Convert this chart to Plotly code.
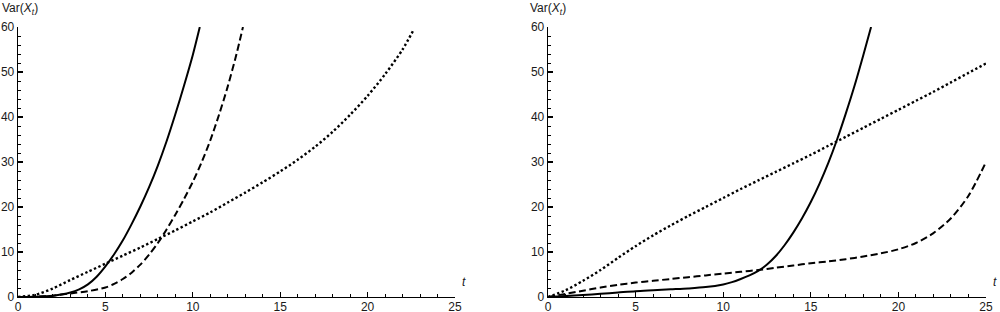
import plotly.graph_objects as go
from plotly.subplots import make_subplots

# ---- Left panel data ----
left_solid_t = [0, 1, 2, 3, 3.5, 4, 4.5, 5, 5.5, 6, 6.5, 7, 7.5, 8, 8.5, 9, 9.5, 10, 10.4]
left_solid_v = [0, 0.05, 0.3, 1.0, 1.7, 2.8, 4.5, 6.8, 9.5, 12.6, 16.2, 20.1, 24.4, 29.2, 34.6, 40.6, 47.0, 53.8, 60]

left_dash_t = [0, 1, 2, 3, 4, 5, 5.5, 6, 6.5, 7, 7.5, 8, 8.5, 9, 9.5, 10, 10.5, 11, 11.5, 12, 12.5, 12.87]
left_dash_v = [0, 0.05, 0.3, 0.8, 1.3, 2.1, 2.9, 4.0, 5.4, 7.2, 9.4, 12.0, 15.0, 18.3, 21.8, 25.6, 29.9, 34.8, 40.5, 46.8, 54.0, 60]

left_dot_t = [0, 1, 2, 3, 4, 5, 6, 7, 8, 9, 10, 11, 12, 13, 14, 15, 16, 17, 18, 19, 20, 21, 22, 22.65]
left_dot_v = [0, 0.5, 1.9, 3.8, 5.6, 7.4, 9.2, 11.0, 12.9, 14.8, 16.8, 18.8, 21.0, 23.2, 25.5, 27.9, 30.5, 33.4, 36.7, 40.5, 44.7, 49.5, 55.0, 59.5]

# ---- Right panel data ----
right_solid_t = [0, 1, 2, 3, 4, 5, 6, 7, 8, 9, 10, 10.5, 11, 11.5, 12, 12.5, 13, 13.5, 14, 14.5, 15, 15.5, 16, 16.5, 17, 17.5, 18, 18.44]
right_solid_v = [0, 0.2, 0.45, 0.7, 1.0, 1.3, 1.5, 1.7, 1.9, 2.2, 2.8, 3.3, 4.0, 4.8, 5.8, 7.2, 9.1, 11.5, 14.3, 17.5, 21.1, 25.2, 29.8, 35.0, 40.8, 47.0, 53.8, 60]

right_dash_t = [0, 1, 2, 3, 4, 5, 6, 7, 8, 9, 10, 11, 12, 13, 14, 15, 16, 17, 18, 19, 20, 21, 22, 23, 24, 25]
right_dash_v = [0, 0.7, 1.4, 2.1, 2.7, 3.2, 3.6, 4.0, 4.4, 4.8, 5.2, 5.6, 6.0, 6.5, 7.0, 7.5, 7.9, 8.4, 9.0, 9.7, 10.6, 12.0, 14.2, 17.5, 22.5, 30.0]

right_dot_t = [0, 1, 2, 3, 4, 5, 6, 7, 8, 9, 10, 11, 12, 13, 14, 15, 16, 17, 18, 19, 20, 21, 22, 23, 24, 25]
right_dot_v = [0, 1.5, 3.6, 6.0, 8.7, 11.3, 13.7, 15.9, 18.0, 20.0, 22.0, 24.0, 25.9, 27.8, 29.7, 31.6, 33.6, 35.6, 37.6, 39.6, 41.6, 43.6, 45.6, 47.7, 49.8, 51.9]

x_ticks = [0, 5, 10, 15, 20, 25]
y_ticks = [0, 10, 20, 30, 40, 50, 60]

BLACK = "#000000"
solid = dict(color=BLACK, width=2)
dashed = dict(color=BLACK, width=2, dash="7px,3.5px")
dotted = dict(color=BLACK, width=2.4, dash="2.4px,2.4px")

fig = make_subplots(rows=1, cols=2)

for col, series in [
    (1, [(left_solid_t, left_solid_v, solid), (left_dash_t, left_dash_v, dashed), (left_dot_t, left_dot_v, dotted)]),
    (2, [(right_solid_t, right_solid_v, solid), (right_dash_t, right_dash_v, dashed), (right_dot_t, right_dot_v, dotted)]),
]:
    for t, v, ln in series:
        fig.add_trace(go.Scatter(x=t, y=v, mode="lines", line=dict(shape="spline", smoothing=0.8, **ln),
                                 showlegend=False, hoverinfo="skip"), row=1, col=col)

font = dict(family="Liberation Sans, Arial, sans-serif", size=12, color="#1a1a1a")

axis_common = dict(
    showgrid=False, zeroline=False, showline=True, linecolor=BLACK, linewidth=1.3,
    ticks="inside", ticklen=5, tickwidth=1.3, tickcolor=BLACK,
    tickfont=font, mirror=False, fixedrange=True, automargin=False,
)

fig.update_xaxes(range=[0, 25], tickvals=x_ticks, ticklabelstandoff=-2,
                 minor=dict(ticks="inside", dtick=1, ticklen=3, tickwidth=1, tickcolor=BLACK),
                 **axis_common)
fig.update_yaxes(range=[0, 60], tickvals=y_ticks,
                 minor=dict(ticks="inside", dtick=2, ticklen=3, tickwidth=1, tickcolor=BLACK),
                 **axis_common)

ML, MR, MT, MB = 18, 14, 27, 15
W = 1000 - ML - MR
fig.update_layout(
    template="none",
    width=1000, height=312,
    margin=dict(l=ML, r=MR, t=MT, b=MB),
    plot_bgcolor="white", paper_bgcolor="white",
    hovermode=False,
    xaxis=dict(domain=[0, (455 - ML) / W], anchor="y"),
    yaxis=dict(domain=[0, 1], anchor="x"),
    xaxis2=dict(domain=[(548 - ML) / W, 1], anchor="y2"),
    yaxis2=dict(domain=[0, 1], anchor="x2"),
    font=font,
)

ylabel = "Var(<i>X</i><sub><i>t</i></sub>)"
for ax, shift in [("", -18), ("2", -20)]:
    fig.add_annotation(text=ylabel, xref="x" + ax + " domain", yref="y" + ax + " domain",
                       x=0, y=1, xanchor="left", yanchor="bottom", xshift=shift, yshift=8,
                       showarrow=False, font=font)
    fig.add_annotation(text="<i>t</i>", xref="x" + ax + " domain", yref="y" + ax + " domain",
                       x=1.0, y=0.0, xanchor="left", yanchor="bottom", xshift=5, yshift=6,
                       showarrow=False, font=font)

fig.write_html("out.html", config={"displayModeBar": False, "staticPlot": True},
               post_script="document.body.style.margin='0';document.body.style.overflow='hidden';")
